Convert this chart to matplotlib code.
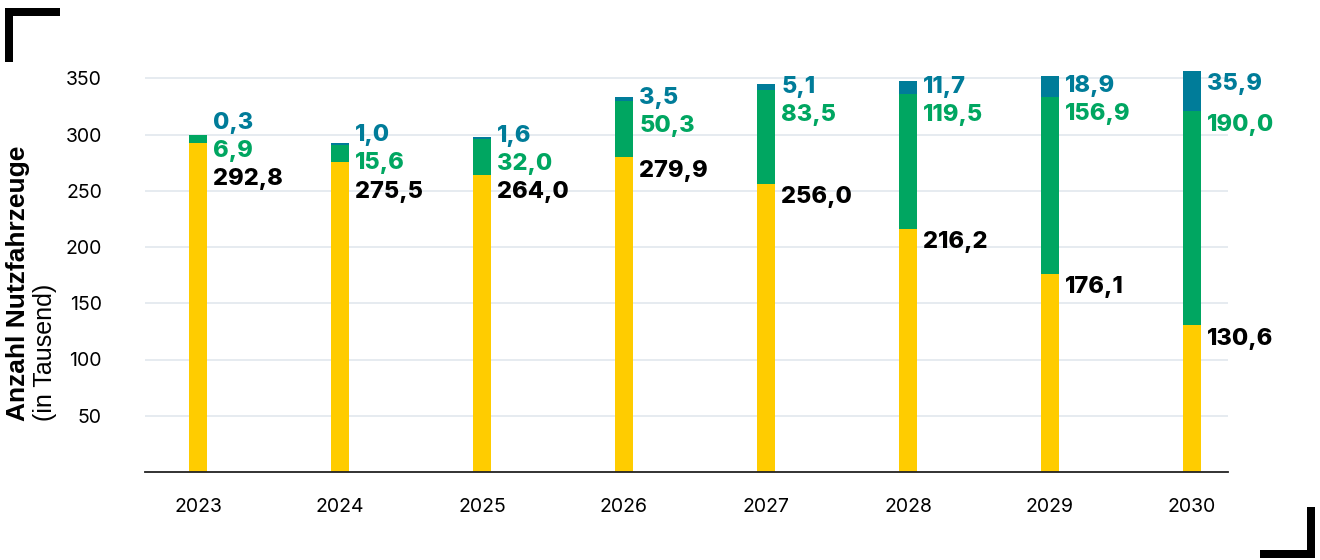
import matplotlib.pyplot as plt
from matplotlib.lines import Line2D

years = ["2023", "2024", "2025", "2026", "2027", "2028", "2029", "2030"]
verbrenner = [292.8, 275.5, 264.0, 279.9, 256.0, 216.2, 176.1, 130.6]
elektro = [6.9, 15.6, 32.0, 50.3, 83.5, 119.5, 156.9, 190.0]
wasserstoff = [0.3, 1.0, 1.6, 3.5, 5.1, 11.7, 18.9, 35.9]

YELLOW = "#FFCC00"
GREEN = "#00A661"
BLUE = "#007C99"
LABEL_FONT = "Inter"


def fmt(v):
    return f"{v:.1f}".replace(".", ",")


def label_positions(tops, gap=25.0, offset=10.0):
    # wunschposition knapp unter segment-oberkante, dann auseinanderschieben
    groups = [[t - offset] for t in tops]
    merged = True
    while merged:
        merged = False
        out = []
        for g in groups:
            if out:
                prev = out[-1]
                centre_prev = sum(prev) / len(prev)
                centre_g = sum(g) / len(g)
                lo_g = centre_g - gap * (len(g) - 1) / 2
                hi_prev = centre_prev + gap * (len(prev) - 1) / 2
                if lo_g - hi_prev < gap:
                    out[-1] = prev + g
                    merged = True
                    continue
            out.append(g)
        groups = out
    pos = []
    for g in groups:
        c = sum(g) / len(g)
        n = len(g)
        pos += [c + gap * (i - (n - 1) / 2) for i in range(n)]
    return pos


fig = plt.figure(figsize=(13.2, 5.6), dpi=100)
ax = fig.add_axes([145 / 1320, 1 - 472 / 560, (1228 - 145) / 1320, (472 - 67) / 560])

x = list(range(len(years)))
w = 0.127
base2 = [a + b for a, b in zip(verbrenner, elektro)]
ax.bar(x, verbrenner, w, color=YELLOW, zorder=3)
ax.bar(x, elektro, w, bottom=verbrenner, color=GREEN, zorder=3)
ax.bar(x, wasserstoff, w, bottom=base2, color=BLUE, zorder=3)

for i in x:
    tops = [verbrenner[i], base2[i], base2[i] + wasserstoff[i]]
    ys = label_positions(tops)
    vals = [verbrenner[i], elektro[i], wasserstoff[i]]
    cols = ["black", GREEN, BLUE]
    for yv, v, c in zip(ys, vals, cols):
        ax.text(i + w / 2 + 0.045, yv - 2, fmt(v), color=c, fontsize=17,
                fontweight="heavy", family=LABEL_FONT, va="center", ha="left",
                zorder=4)

ax.set_xlim(-0.373, 7.254)
ax.set_ylim(0, 360)
ax.set_yticks([50, 100, 150, 200, 250, 300, 350])
ax.set_xticks(x)
ax.set_xticklabels(years)
ax.tick_params(axis="both", length=0, labelsize=14)
ax.tick_params(axis="x", pad=19)
ax.tick_params(axis="y", pad=31)
for lab in ax.get_xticklabels() + ax.get_yticklabels():
    lab.set_family(LABEL_FONT)
ax.grid(axis="y", color="#E1E7EE", linewidth=1.2, zorder=0)
for s in ["top", "right", "left"]:
    ax.spines[s].set_visible(False)
ax.spines["bottom"].set_color("#222222")
ax.spines["bottom"].set_linewidth(1.3)
ax.spines["bottom"].set_zorder(5)

fig.text(18 / 1320, 1 - 421 / 560, "Anzahl Nutzfahrzeuge", rotation=90,
         fontsize=19, fontweight="bold", family="Liberation Sans",
         ha="center", va="bottom")
fig.text(45 / 1320, 1 - 421 / 560, "(in Tausend)", rotation=90,
         fontsize=18, family="Liberation Sans", ha="center", va="bottom")

# eckmarken
lw = 8
fig.add_artist(Line2D([9 / 1320, 9 / 1320, 60 / 1320],
                      [1 - 62 / 560, 1 - 12 / 560, 1 - 12 / 560],
                      color="black", linewidth=lw * 0.72,
                      solid_joinstyle="miter", solid_capstyle="butt"))
fig.add_artist(Line2D([1260 / 1320, 1311 / 1320, 1311 / 1320],
                      [1 - 554 / 560, 1 - 554 / 560, 1 - 507 / 560],
                      color="black", linewidth=lw * 0.72,
                      solid_joinstyle="miter", solid_capstyle="butt"))

fig.savefig("out.png", dpi=100)
